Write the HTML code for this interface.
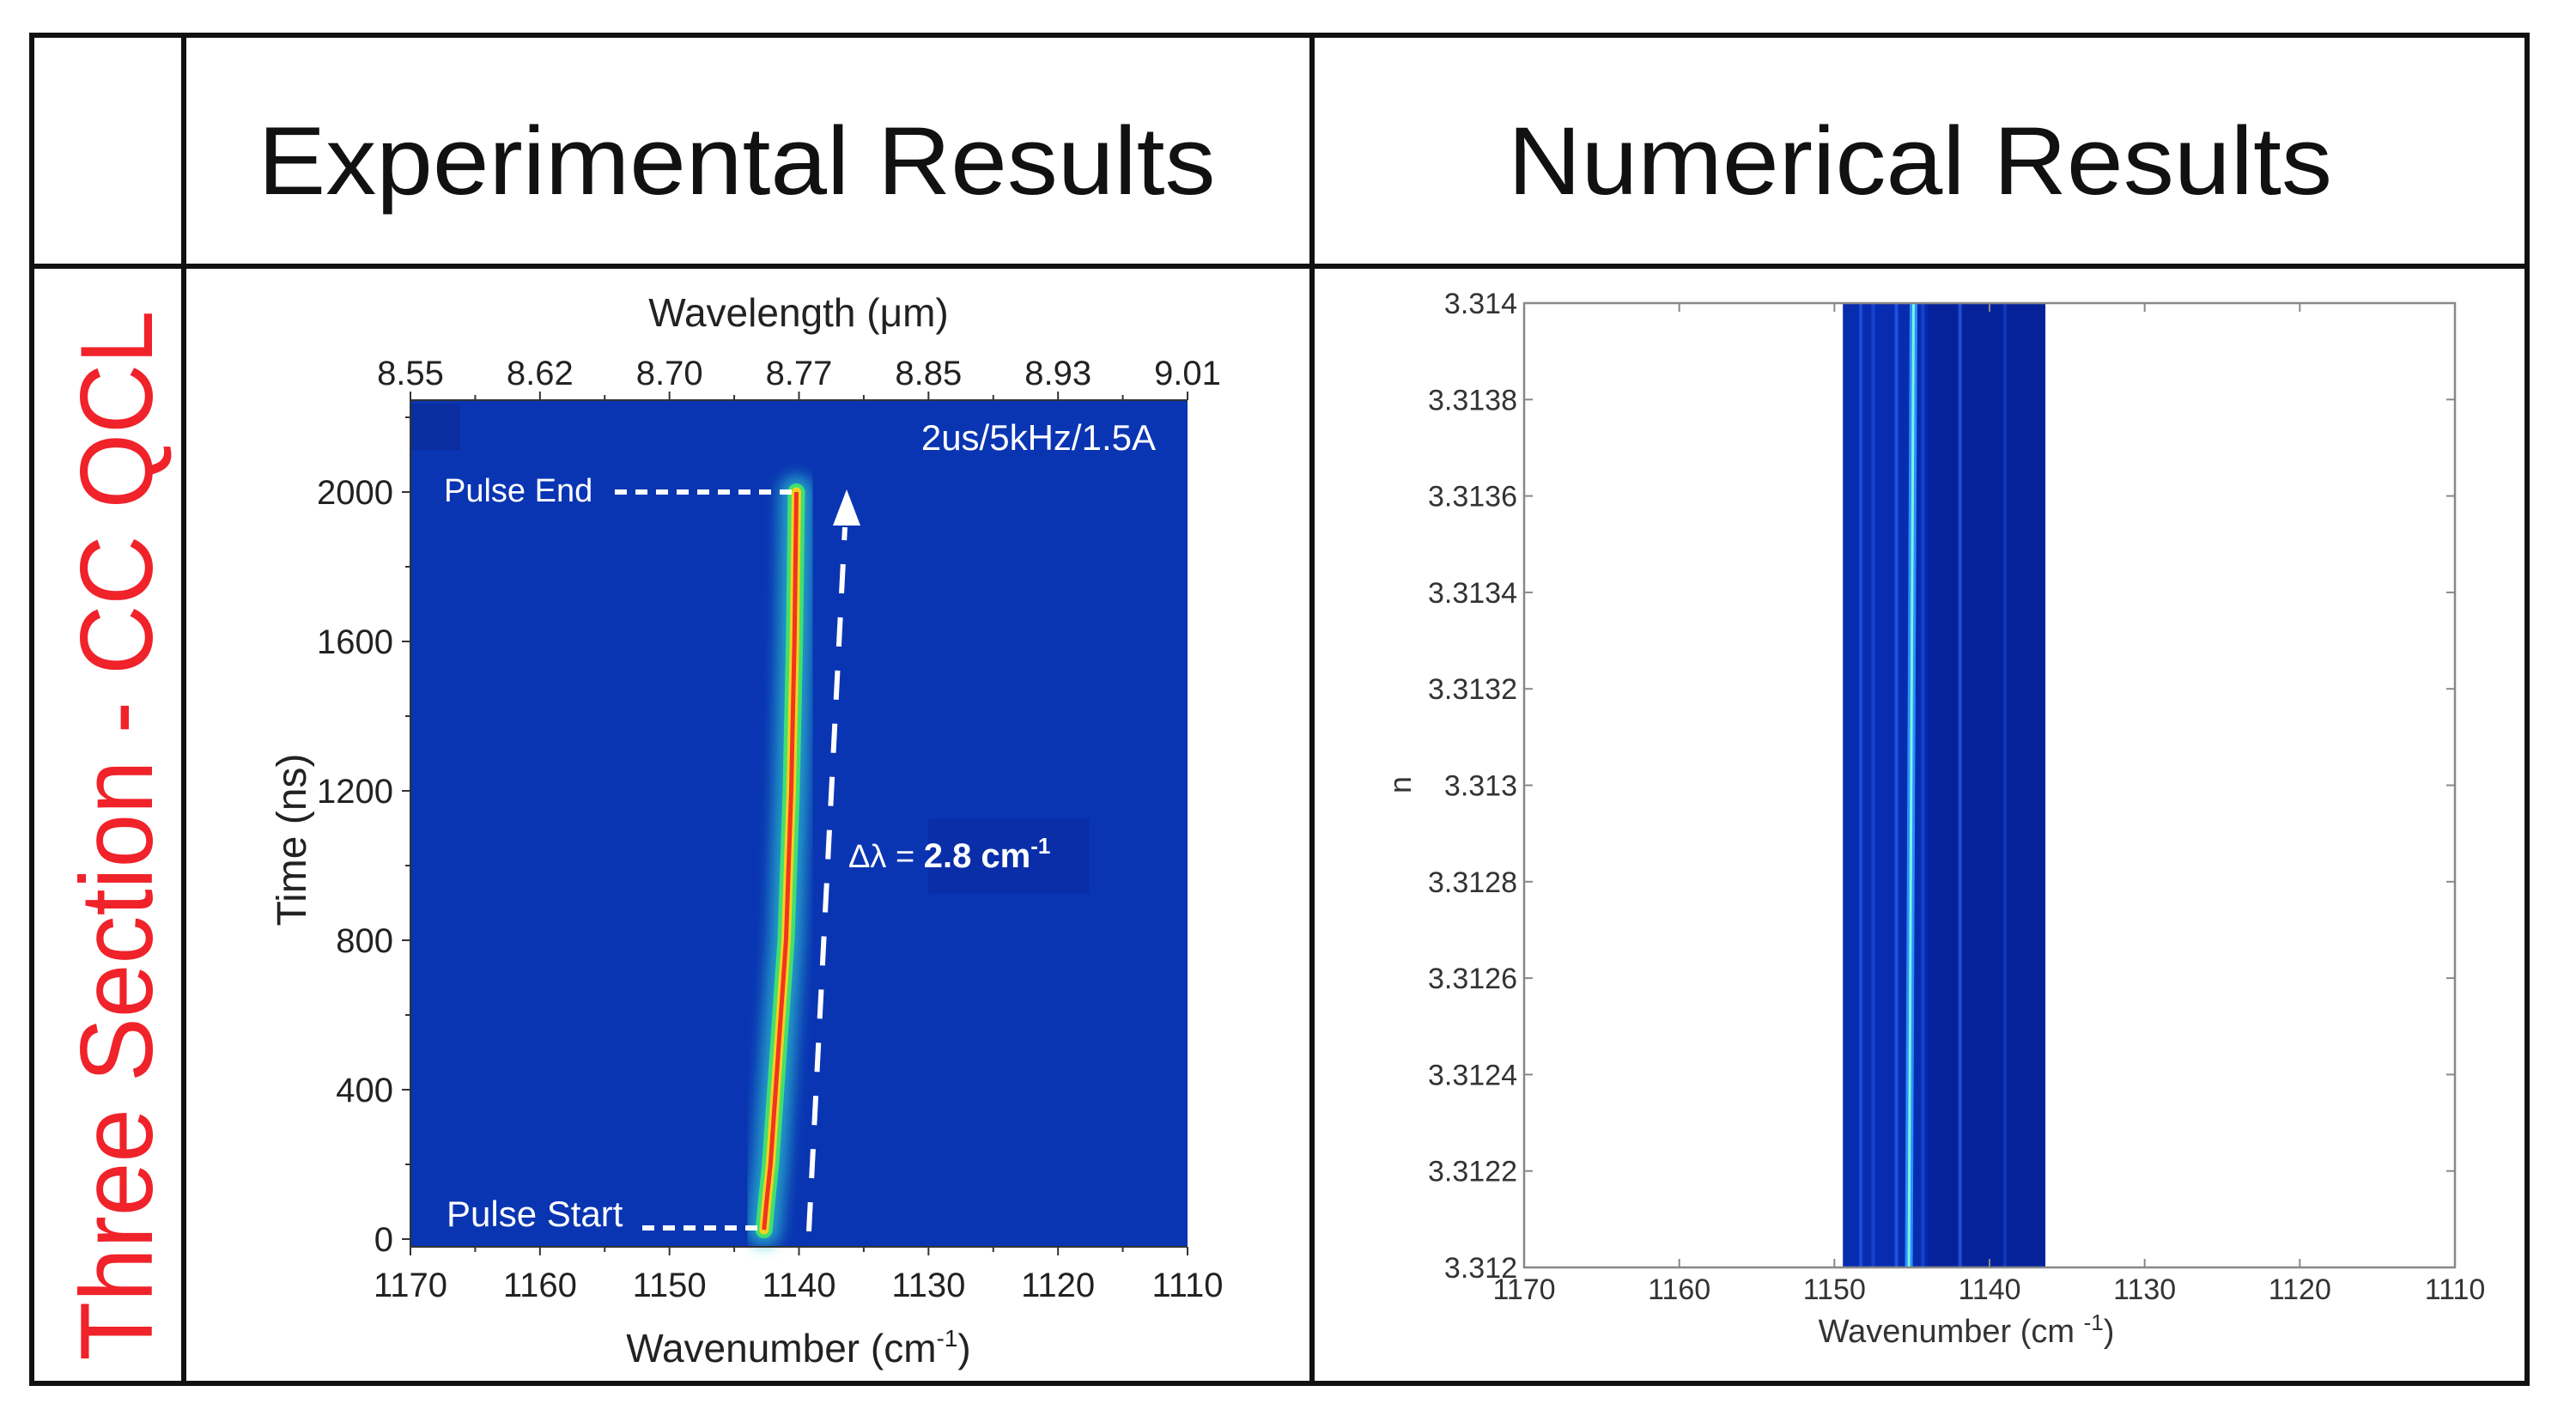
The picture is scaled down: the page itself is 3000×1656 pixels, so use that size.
<!DOCTYPE html>
<html><head><meta charset="utf-8"><style>
html,body{margin:0;padding:0;background:#fff}
svg{display:block}
text{font-family:"Liberation Sans",sans-serif}
</style></head><body>
<svg id="root" width="3000" height="1656" viewBox="0 0 3000 1656" xmlns="http://www.w3.org/2000/svg">
<defs>
<filter id="glow" x="-50%" y="-10%" width="200%" height="120%"><feGaussianBlur stdDeviation="8"/></filter>
</defs>
<g stroke="#111" stroke-width="6" fill="none">
<rect x="37" y="41" width="2906" height="1570"/>
<line x1="214" y1="41" x2="214" y2="1611"/>
<line x1="1528" y1="41" x2="1528" y2="1611"/>
<line x1="37" y1="310" x2="2943" y2="310"/>
</g>
<text x="858" y="226" text-anchor="middle" font-size="112" textLength="1115" lengthAdjust="spacingAndGlyphs" fill="#111">Experimental Results</text>
<text x="2236" y="226" text-anchor="middle" font-size="112" textLength="960" lengthAdjust="spacingAndGlyphs" fill="#111">Numerical Results</text>
<text transform="translate(177,973) rotate(-90)" text-anchor="middle" font-size="120" textLength="1223" lengthAdjust="spacingAndGlyphs" fill="#f0222a">Three Section - CC QCL</text>

<g id="left"></g>
<g id="right"></g>
</svg>
<script>
// ---- Experimental chart data ----
const expTimes = [25, 100, 200, 400, 800, 1200, 1600, 2000];
const expWavenumbers = [1142.7, 1142.5, 1142.2, 1141.8, 1141.0, 1140.6, 1140.35, 1140.2];
const expXTicks = [1170, 1160, 1150, 1140, 1130, 1120, 1110];
const expYTicks = [0, 400, 800, 1200, 1600, 2000];
const expTopTicks = ['8.55', '8.62', '8.70', '8.77', '8.85', '8.93', '9.01'];
// ---- Numerical chart data ----
const numXTicks = [1170, 1160, 1150, 1140, 1130, 1120, 1110];
const numYTicks = [3.312, 3.3122, 3.3124, 3.3126, 3.3128, 3.313, 3.3132, 3.3134, 3.3136, 3.3138, 3.314];
const numYLabels = ['3.312', '3.3122', '3.3124', '3.3126', '3.3128', '3.313', '3.3132', '3.3134', '3.3136', '3.3138', '3.314'];
const numBand = [1149.45, 1136.4];
const numMainLineTop = 1144.9;
const numMainLineBottom = 1145.2;
const numSideLines = [1148.3, 1147.5, 1146.0, 1144.3, 1141.9, 1139.0];
const numSideIntensity = [0.5, 0.35, 0.6, 0.35, 0.6, 0.3];

const NS = 'http://www.w3.org/2000/svg';
function mk(parent, tag, attrs, txt) {
  const e = document.createElementNS(NS, tag);
  for (const k in attrs) e.setAttribute(k, attrs[k]);
  if (txt !== undefined) e.textContent = txt;
  parent.appendChild(e);
  return e;
}

// ---------- left ----------
(function(){
  const g = document.getElementById('left');
  const L = 478, R = 1383, T = 466, B = 1452;
  const x = v => L + (1170 - v) / 60 * (R - L);
  const y = v => 1443 - v / 400 * 174;
  const bg = mk(g, 'rect', {x:L, y:T, width:R-L, height:B-T, fill:'#0a35b2'});
  
  
  const sq = mk(g, 'rect', {x:L, y:T+4, width:58, height:54, fill:'#0a2ea0'});
  
  
  const pts = expTimes.map((t,i) => x(expWavenumbers[i]) + ',' + y(t)).join(' ');
  const glow = mk(g, 'polyline', {points:pts, fill:'none', stroke:'#2fc8d0', 'stroke-width':40, filter:'url(#glow)', 'stroke-linecap':'round', opacity:0.7});
  
  
  const c1 = mk(g, 'polyline', {points:pts, fill:'none', stroke:'#40e070', 'stroke-width':20, 'stroke-linecap':'round'});
  
  
  const c2 = mk(g, 'polyline', {points:pts, fill:'none', stroke:'#f5d020', 'stroke-width':11, 'stroke-linecap':'round'});
  
  
  const c3 = mk(g, 'polyline', {points:pts, fill:'none', stroke:'#f0361e', 'stroke-width':5});
  
  
  const ax = mk(g, 'path', {d:`M${L},${T} V${B} H${R}`, stroke:'#333', 'stroke-width':2, fill:'none'});
  
  
  mk(g, 'line', {x1:L, y1:T, x2:R, y2:T, stroke:'#333', 'stroke-width':2});
  expXTicks.forEach((v,i) => {
    mk(g, 'line', {x1:x(v), y1:B, x2:x(v), y2:B+10, stroke:'#333', 'stroke-width':2});
    if (i < expXTicks.length-1) mk(g, 'line', {x1:x(v-5), y1:B, x2:x(v-5), y2:B+6, stroke:'#333', 'stroke-width':2});
    const t = mk(g, 'text', {x:x(v), y:1510, 'text-anchor':'middle', 'font-size':40, fill:'#222'}, String(v));
    
    
    mk(g, 'line', {x1:x(v), y1:T, x2:x(v), y2:T-10, stroke:'#333', 'stroke-width':2});
    if (i < expXTicks.length-1) mk(g, 'line', {x1:x(v-5), y1:T, x2:x(v-5), y2:T-6, stroke:'#333', 'stroke-width':2});
    const tt = mk(g, 'text', {x:x(v), y:448, 'text-anchor':'middle', 'font-size':40, fill:'#222'}, expTopTicks[i]);
    
    
  });
  expYTicks.forEach(v => {
    mk(g, 'line', {x1:L, y1:y(v), x2:L-10, y2:y(v), stroke:'#333', 'stroke-width':2});
    mk(g, 'line', {x1:L, y1:y(v+200), x2:L-6, y2:y(v+200), stroke:'#333', 'stroke-width':2});
    const t = mk(g, 'text', {x:458, y:y(v)+14, 'text-anchor':'end', 'font-size':40, fill:'#222'}, String(v));
    
    
  });
  const xt = mk(g, 'text', {x:930, y:1586, 'text-anchor':'middle', 'font-size':46, fill:'#222'});
  xt.innerHTML = 'Wavenumber (cm<tspan dy="-18" font-size="28">-1</tspan><tspan dy="18">)</tspan>';
  
  
  const tt = mk(g, 'text', {x:930, y:380, 'text-anchor':'middle', 'font-size':46, fill:'#222'}, 'Wavelength (\u03bcm)');
  
  
  const yt = mk(g, 'text', {transform:'translate(356,978) rotate(-90)', 'text-anchor':'middle', 'font-size':48, fill:'#222'}, 'Time (ns)');
  
  
  const a1 = mk(g, 'text', {x:517, y:584, 'font-size':38, fill:'#fff'}, 'Pulse End');
  
  
  mk(g, 'line', {x1:716, y1:573, x2:x(expWavenumbers[7]), y2:573, stroke:'#fff', 'stroke-width':6, 'stroke-dasharray':'14 10'});
  const a2 = mk(g, 'text', {x:520, y:1428, 'font-size':42, fill:'#fff'}, 'Pulse Start');
  
  
  mk(g, 'line', {x1:748, y1:1430, x2:x(expWavenumbers[0]), y2:1430, stroke:'#fff', 'stroke-width':6, 'stroke-dasharray':'14 10'});
  const ar = mk(g, 'line', {x1:942, y1:1434, x2:984, y2:614, stroke:'#fff', 'stroke-width':6, 'stroke-dasharray':'34 28'});
  
  
  mk(g, 'polygon', {points:'986,570 970,612 1002,612', fill:'#fff'});
  mk(g, 'rect', {x:1081, y:953, width:188, height:88, fill:'#0a2ea8'});
  const d = mk(g, 'text', {x:988, y:1010, 'font-size':38, fill:'#fff'});
  d.innerHTML = '\u0394\u03bb = <tspan font-weight="bold" font-size="40">2.8 cm</tspan><tspan dy="-16" font-size="26" font-weight="bold">-1</tspan>';
  
  
  const p = mk(g, 'text', {x:1346, y:524, 'text-anchor':'end', 'font-size':42, fill:'#fff'}, '2us/5kHz/1.5A');
  
  
})();

// ---------- right ----------
(function(){
  const g = document.getElementById('right');
  const L = 1775, R = 2859, T = 353, B = 1476;
  const x = v => L + (1170 - v) / 60 * (R - L);
  const y = v => B - (v - 3.312) / 0.002 * (B - T);
  const band = mk(g, 'rect', {x:x(numBand[0]), y:T, width:x(numBand[1])-x(numBand[0]), height:B-T, fill:'#06229a'});
  
  
  const band2 = mk(g, 'rect', {x:x(numBand[0]), y:T, width:x(1144)-x(numBand[0]), height:B-T, fill:'#0a33c0', opacity:0.6});
  
  
  numSideLines.forEach((v,i) => {
    const l = mk(g, 'line', {x1:x(v), y1:T, x2:x(v), y2:B, stroke:'#2f6cff', 'stroke-width':4, opacity:numSideIntensity[i]});
    
    
  });
  const m1 = mk(g, 'line', {x1:x(numMainLineTop), y1:T, x2:x(numMainLineBottom), y2:B, stroke:'#2a90ff', 'stroke-width':9});
  
  
  const m2 = mk(g, 'line', {x1:x(numMainLineTop), y1:T, x2:x(numMainLineBottom), y2:B, stroke:'#7ef0e0', 'stroke-width':3});
  
  
  const fr = mk(g, 'rect', {x:L, y:T, width:R-L, height:B-T, fill:'none', stroke:'#888', 'stroke-width':2.5});
  
  
  numXTicks.forEach(v => {
    mk(g, 'line', {x1:x(v), y1:B, x2:x(v), y2:B-10, stroke:'#888', 'stroke-width':2});
    mk(g, 'line', {x1:x(v), y1:T, x2:x(v), y2:T+10, stroke:'#888', 'stroke-width':2});
    const t = mk(g, 'text', {x:x(v), y:1513, 'text-anchor':'middle', 'font-size':34, fill:'#333'}, String(v));
    
    
  });
  numYTicks.forEach((v,i) => {
    mk(g, 'line', {x1:L, y1:y(v), x2:L+10, y2:y(v), stroke:'#888', 'stroke-width':2});
    mk(g, 'line', {x1:R, y1:y(v), x2:R-10, y2:y(v), stroke:'#888', 'stroke-width':2});
    const t = mk(g, 'text', {x:1767, y:y(v)+12, 'text-anchor':'end', 'font-size':34, fill:'#333'}, numYLabels[i]);
    
    
  });
  const xt = mk(g, 'text', {x:2290, y:1563, 'text-anchor':'middle', 'font-size':38, fill:'#333'});
  xt.innerHTML = 'Wavenumber (cm <tspan dy="-14" font-size="26">-1</tspan><tspan dy="14">)</tspan>';
  
  
  const yt = mk(g, 'text', {transform:'translate(1643,914) rotate(-90)', 'text-anchor':'middle', 'font-size':36, fill:'#333'}, 'n');
  
  
})();
</script>
</body></html>
